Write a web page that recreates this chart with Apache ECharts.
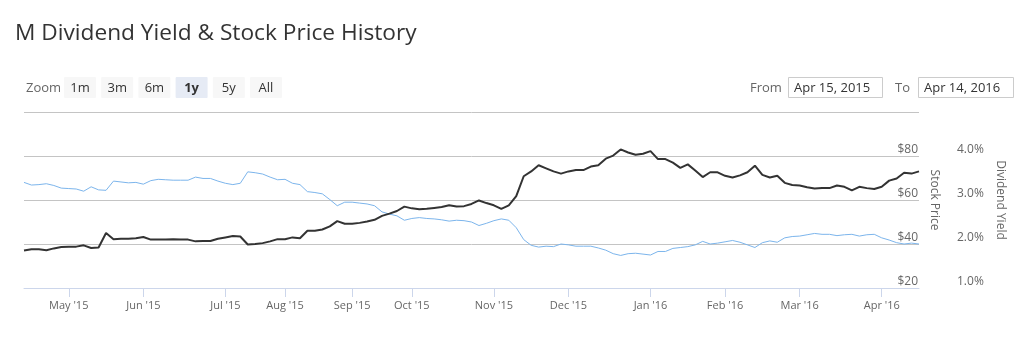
<!DOCTYPE html>
<html>
<head>
<meta charset="utf-8">
<title>M Dividend Yield &amp; Stock Price History</title>
<script src="https://cdn.jsdelivr.net/npm/echarts@6/dist/echarts.min.js"></script>
<style>
  html, body { margin: 0; padding: 0; background: #fff; }
  #chart { width: 1023px; height: 338px; }
</style>
</head>
<body>
<div id="chart"></div>
<script>
// Trading-day samples (about every second session), grouped by month.
const monthLabels = ["Apr '15", "May '15", "Jun '15", "Jul '15", "Aug '15", "Sep '15",
  "Oct '15", "Nov '15", "Dec '15", "Jan '16", "Feb '16", "Mar '16", "Apr '16"];
const pointsPerMonth = [6, 10, 11, 8, 9, 8, 11, 10, 11, 10, 10, 11, 6];

// Closing price, USD
const stockPrice = [
  68.0, 66.8, 67.0, 67.4, 66.6, 65.4, 65.2, 65.0, 64.0, 66.0,
  64.6, 64.4, 68.6, 68.2, 67.8, 68.0, 67.2, 68.8, 69.4, 69.2,
  69.0, 69.0, 69.0, 70.4, 69.8, 69.8, 68.6, 67.6, 67.0, 67.6,
  72.8, 72.4, 71.8, 70.4, 69.2, 69.4, 67.6, 67.0, 63.8, 63.4,
  62.8, 60.2, 57.4, 59.0, 59.0, 58.6, 58.2, 57.4, 54.6, 53.6,
  52.8, 50.8, 51.6, 52.0, 51.6, 51.4, 51.0, 50.4, 50.8, 50.6,
  50.0, 48.4, 49.4, 50.6, 51.4, 50.8, 47.4, 42.0, 39.4, 38.6,
  39.0, 38.8, 40.0, 39.6, 39.0, 39.0, 39.0, 38.2, 37.2, 35.6,
  34.8, 35.6, 35.8, 35.4, 35.0, 36.6, 36.6, 38.0, 38.4, 38.8,
  39.6, 41.2, 40.0, 40.4, 41.0, 41.6, 40.8, 39.6, 38.4, 40.6,
  41.4, 40.8, 42.8, 43.4, 43.6, 44.2, 44.8, 44.4, 44.4, 43.8,
  44.2, 44.4, 43.6, 44.2, 44.4, 42.8, 41.8, 40.6, 40.0, 40.4,
  40.0
];

// Trailing dividend yield, percent
const dividendYield = [
  1.85, 1.88, 1.88, 1.86, 1.90, 1.93, 1.94, 1.94, 1.97, 1.91,
  1.92, 2.25, 2.11, 2.12, 2.12, 2.13, 2.16, 2.10, 2.10, 2.10,
  2.11, 2.10, 2.10, 2.06, 2.07, 2.07, 2.12, 2.15, 2.18, 2.17,
  1.99, 2.00, 2.02, 2.06, 2.11, 2.11, 2.15, 2.13, 2.30, 2.30,
  2.33, 2.40, 2.52, 2.46, 2.46, 2.48, 2.51, 2.55, 2.64, 2.69,
  2.75, 2.85, 2.81, 2.79, 2.80, 2.82, 2.84, 2.88, 2.85, 2.86,
  2.91, 2.99, 2.93, 2.88, 2.80, 2.88, 3.09, 3.54, 3.65, 3.79,
  3.72, 3.65, 3.60, 3.65, 3.68, 3.68, 3.76, 3.79, 3.94, 4.01,
  4.15, 4.08, 4.03, 4.05, 4.11, 3.93, 3.93, 3.85, 3.73, 3.81,
  3.67, 3.52, 3.63, 3.63, 3.55, 3.51, 3.56, 3.63, 3.78, 3.57,
  3.51, 3.55, 3.39, 3.34, 3.33, 3.29, 3.26, 3.27, 3.27, 3.33,
  3.30, 3.22, 3.30, 3.27, 3.25, 3.30, 3.44, 3.49, 3.62, 3.60,
  3.65
];

// Axis ranges
const priceAxis = { min: 20, max: 100, step: 20 };
const yieldAxis = { min: 1, max: 5, step: 1 };

// Range selector and date inputs
const zoomButtons = ["1m", "3m", "6m", "1y", "5y", "All"];
const selectedZoom = "1y";
const fromDate = "Apr 15, 2015";
const toDate = "Apr 14, 2016";

// Build one category per sample; the first sample of each month carries the month label.
const categories = [];
const monthStart = [];
pointsPerMonth.forEach((n, m) => {
  for (let k = 0; k < n; k++) {
    categories.push(monthLabels[m] + '#' + k);
    monthStart.push(k === 0 && m > 0);
  }
});

const FONT = '"Open Sans", "Liberation Sans", Arial, sans-serif';

const graphic = [];
graphic.push({
  type: 'text', x: 26, y: 88,
  style: { text: 'Zoom', fill: '#666', verticalAlign: 'middle', font: '13px ' + FONT }
});
zoomButtons.forEach((b, i) => {
  const x = 64 + i * 37.2;
  const sel = b === selectedZoom;
  graphic.push({
    type: 'rect', shape: { x: x, y: 77, width: 32, height: 21, r: 1 },
    style: { fill: sel ? '#e6ebf5' : '#f7f7f7' }
  });
  graphic.push({
    type: 'text', x: x + 16, y: 88,
    style: {
      text: b, fill: '#333', align: 'center', verticalAlign: 'middle',
      font: (sel ? 'bold ' : '') + '13px ' + FONT
    }
  });
});
graphic.push({
  type: 'text', x: 750, y: 88,
  style: { text: 'From', fill: '#666', verticalAlign: 'middle', font: '13px ' + FONT }
});
graphic.push({
  type: 'rect', shape: { x: 788.5, y: 77.5, width: 94, height: 20 },
  style: { fill: '#fff', stroke: '#cccccc', lineWidth: 1 }
});
graphic.push({
  type: 'text', x: 794, y: 88,
  style: { text: fromDate, fill: '#333', verticalAlign: 'middle', font: '13px ' + FONT }
});
graphic.push({
  type: 'text', x: 895, y: 88,
  style: { text: 'To', fill: '#666', verticalAlign: 'middle', font: '13px ' + FONT }
});
graphic.push({
  type: 'rect', shape: { x: 918.5, y: 77.5, width: 95, height: 20 },
  style: { fill: '#fff', stroke: '#cccccc', lineWidth: 1 }
});
graphic.push({
  type: 'text', x: 924, y: 88,
  style: { text: toDate, fill: '#333', verticalAlign: 'middle', font: '13px ' + FONT }
});

const chart = echarts.init(document.getElementById('chart'), null, { renderer: 'canvas' });
chart.setOption({
  animation: false,
  backgroundColor: '#fff',
  title: {
    text: 'M Dividend Yield & Stock Price History',
    left: 10, top: 17,
    textStyle: { fontFamily: FONT, fontSize: 22.7, fontWeight: 'normal', color: '#333' }
  },
  graphic: graphic,
  grid: { left: 24, right: 104, top: 112, bottom: 50, containLabel: false },
  xAxis: {
    type: 'category',
    data: categories,
    boundaryGap: false,
    axisLine: { lineStyle: { color: '#ccd6eb', width: 1 } },
    axisTick: {
      length: 9,
      interval: (i) => monthStart[i],
      lineStyle: { color: '#ccd6eb' }
    },
    axisLabel: {
      interval: (i) => monthStart[i],
      formatter: (v) => v.split('#')[0],
      color: '#666', fontFamily: FONT, fontSize: 11, margin: 12
    },
    splitLine: { show: false }
  },
  yAxis: [
    {
      type: 'value', position: 'right',
      min: priceAxis.min, max: priceAxis.max, interval: priceAxis.step,
      name: 'Stock Price', nameLocation: 'middle', nameRotate: -90, nameGap: 6,
      nameTextStyle: { color: '#666', fontFamily: FONT, fontSize: 12 },
      axisLine: { show: false }, axisTick: { show: false },
      axisLabel: {
        inside: true, margin: 1, showMaxLabel: false,
        formatter: (v) => '$' + v,
        color: '#666', fontFamily: FONT, fontSize: 12,
        verticalAlign: 'bottom', lineHeight: 12, padding: 0
      },
      splitLine: { lineStyle: { color: '#c4c4c4', width: 1 } }
    },
    {
      type: 'value', position: 'right',
      min: yieldAxis.min, max: yieldAxis.max, interval: yieldAxis.step,
      name: 'Dividend Yield', nameLocation: 'middle', nameRotate: -90, nameGap: 74,
      nameTextStyle: { color: '#666', fontFamily: FONT, fontSize: 12 },
      axisLine: { show: false }, axisTick: { show: false },
      axisLabel: {
        margin: 38, showMaxLabel: false, align: 'left',
        formatter: (v) => v.toFixed(1) + '%',
        color: '#666', fontFamily: FONT, fontSize: 12,
        verticalAlign: 'bottom', lineHeight: 12, padding: 0
      },
      splitLine: { show: false }
    }
  ],
  series: [
    {
      name: 'Stock Price', type: 'line', yAxisIndex: 0,
      data: stockPrice, showSymbol: false, symbol: 'none',
      lineStyle: { color: '#7cb5ec', width: 1 }, z: 2
    },
    {
      name: 'Dividend Yield', type: 'line', yAxisIndex: 1,
      data: dividendYield, showSymbol: false, symbol: 'none',
      lineStyle: { color: '#333333', width: 2 }, z: 3
    }
  ]
});
</script>
</body>
</html>
